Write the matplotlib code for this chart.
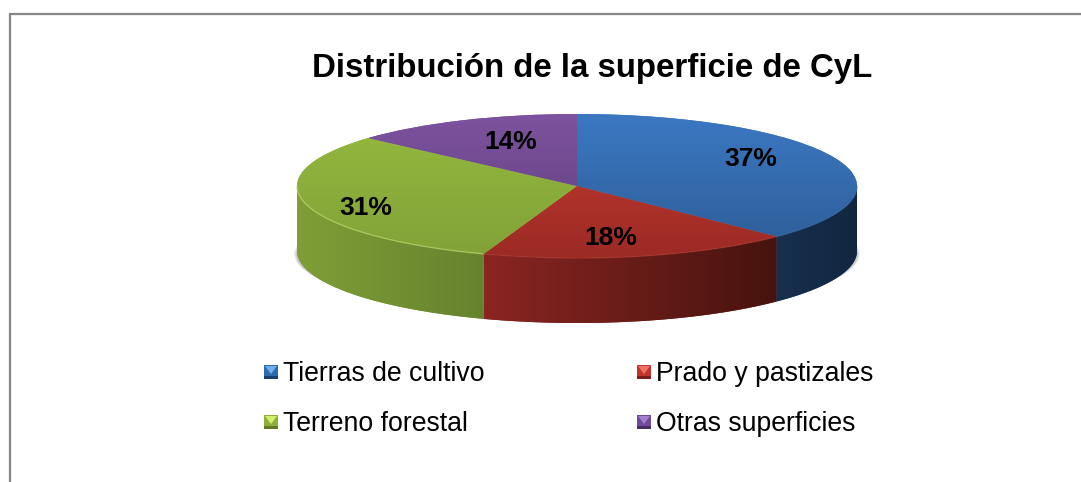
import numpy as np
import matplotlib
matplotlib.use("Agg")
import matplotlib.pyplot as plt
from matplotlib.colors import to_rgb
from matplotlib.patches import Ellipse, Polygon, Rectangle

plt.rcParams['font.family'] = ['Liberation Sans', 'DejaVu Sans']

title = "Distribución de la superficie de CyL"
categories = ["Tierras de cultivo", "Prado y pastizales", "Terreno forestal", "Otras superficies"]
# slice sizes as they look in the picture, the 3d view skews them a bit from the printed labels
values = [37.4, 18.0, 31.2, 13.4]
labels = ["37%", "18%", "31%", "14%"]

# top face gradient (back, front)
top_colors = [("#3b78c2", "#2d5c96"), ("#c63c32", "#9c2a25"), ("#95b93f", "#82a238"), ("#7d529e", "#5e3f7f")]
# side gradient (left, right)
side_colors = [("#17304f", "#12263f"), ("#8a2522", "#47130e"), ("#7f9e36", "#67832f"), ("#5e3f7f", "#5e3f7f")]
legend_colors = [("#6fb0e8", "#2f6aad", "#1d3f6b"), ("#f0716a", "#c0352e", "#7a1f1c"),
                 ("#d3ee6a", "#8fae3c", "#5f7a28"), ("#a67fcc", "#71499a", "#46305f")]
label_pos = [(751, 159), (611, 238), (366, 208), (511, 142)]
legend_pos = [(264, 372), (637, 372), (264, 422), (637, 422)]

W, H = 1081, 482
cx, cy, a, b, depth = 577, 186, 280, 72, 65
t = depth / b


def gradient(ax, c0, c1, extent, clip, horizontal=False, zorder=2):
    c0, c1 = np.array(to_rgb(c0)), np.array(to_rgb(c1))
    f = np.linspace(0, 1, 64)[:, None]
    rows = c0 + (c1 - c0) * f
    img = rows[None, :, :] if horizontal else rows[:, None, :]
    im = ax.imshow(img, extent=extent, aspect='auto', origin='upper', zorder=zorder,
                   interpolation='bilinear')
    im.set_clip_path(clip)
    return im


fig = plt.figure(figsize=(W / 100, H / 100), dpi=100, facecolor='white')

# pie axes, one unit is one radius of the ellipse
left, right = cx - a * 1.03, cx + a * 1.03
top, bottom = cy - b * 1.05, cy + b + depth + 6
pie_ax = fig.add_axes([left / W, 1 - bottom / H, (right - left) / W, (bottom - top) / H])
wedges, _ = pie_ax.pie(values, startangle=90, counterclock=False, radius=1,
                       colors=[c[0] for c in top_colors], wedgeprops=dict(linewidth=0, zorder=3))
xlim = (-1.03, 1.03)
ylim = (-(bottom - cy) / b, (cy - top) / b)

# soft shadow behind the sides
for i in range(5):
    pie_ax.add_patch(Ellipse((0, -t * 1.05), 2 * (1 + 0.002 * (5 - i)), 2 * 0.85, fc='#808080',
                             alpha=0.10, lw=0, zorder=1))

# side walls, only the front half of the disc shows
edges = np.cumsum([0] + values) / sum(values) * 2 * np.pi
for i in range(len(values)):
    th0, th1 = max(edges[i], np.pi / 2), min(edges[i + 1], 3 * np.pi / 2)
    if th1 <= th0:
        continue
    th = np.linspace(th0, th1, 150)
    xs, ys = np.sin(th), np.cos(th)
    poly = np.vstack([np.column_stack([xs, ys]), np.column_stack([xs[::-1], ys[::-1] - t])])
    patch = Polygon(poly, closed=True, fc=side_colors[i][0], lw=0, zorder=2)
    pie_ax.add_patch(patch)
    gradient(pie_ax, side_colors[i][0], side_colors[i][1],
             (xs.min(), xs.max(), -1 - t, 1), patch, horizontal=True)

# top face with gradient clipped to the pie wedges
for w, (c0, c1) in zip(wedges, top_colors):
    gradient(pie_ax, c0, c1, (-1, 1, -1, 1), w, zorder=4)

# light rim on the front edge
th = np.linspace(edges[2], 3 * np.pi / 2, 120)
pie_ax.plot(np.sin(th), np.cos(th), color='#b9d36a', lw=1, alpha=0.7, zorder=5)
th = np.linspace(edges[1], edges[2], 120)
pie_ax.plot(np.sin(th), np.cos(th), color='#a83a33', lw=1, alpha=0.6, zorder=5)
th = np.linspace(np.pi / 2, edges[1], 120)
pie_ax.plot(np.sin(th), np.cos(th), color='#3a6ba6', lw=1, alpha=0.6, zorder=5)

pie_ax.set_aspect('auto')
pie_ax.set_xlim(xlim)
pie_ax.set_ylim(ylim)
pie_ax.axis('off')

# overlay in pixel coordinates for text and frame
ax = fig.add_axes([0, 0, 1, 1])
ax.set_xlim(0, W)
ax.set_ylim(H, 0)
ax.axis('off')
ax.patch.set_alpha(0)

ax.plot([10, 10, W], [H, 14, 14], color='#868686', lw=1.6, solid_joinstyle='miter')

ax.text(592, 68, title, ha='center', va='center', fontsize=23.75, fontweight='bold', color='black')

for lab, (x, y) in zip(labels, label_pos):
    ax.text(x, y, lab, ha='center', va='center', fontsize=19, fontweight='bold', color='black')

for name, (c_light, c_mid, c_dark), (x, y) in zip(categories, legend_colors, legend_pos):
    s = 14
    ax.add_patch(Rectangle((x, y - s / 2), s, s, fc=c_mid, lw=0))
    ax.add_patch(Rectangle((x, y + s / 2 - 3), s, 3, fc=c_dark, lw=0))
    ax.add_patch(Polygon([(x + 1, y - s / 2 + 1), (x + s - 1, y - s / 2 + 1), (x + s / 2, y + 2)],
                         closed=True, fc=c_light, lw=0))
    ax.text(x + 19, y + 2, name, ha='left', va='center', fontsize=19.15, color='black')

fig.savefig("out.png", dpi=100)
